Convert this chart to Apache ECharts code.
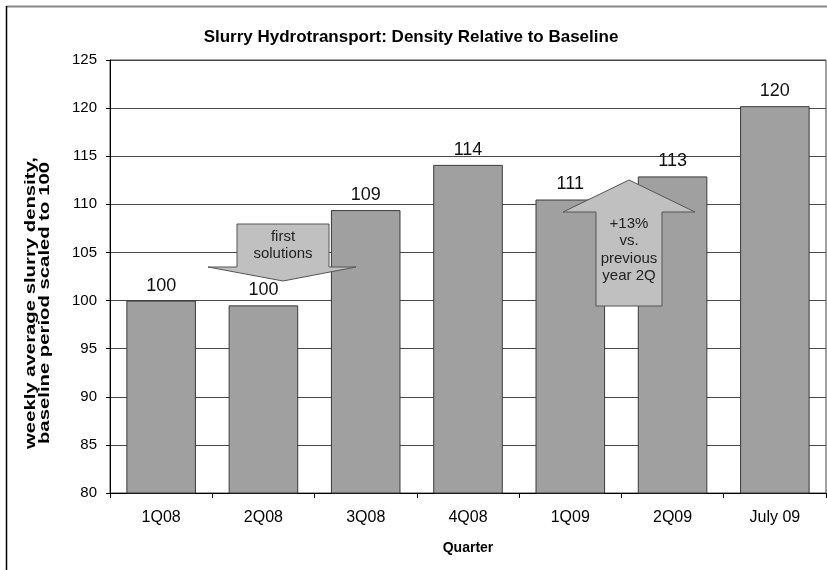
<!DOCTYPE html>
<html>
<head>
<meta charset="utf-8">
<script src="https://cdn.jsdelivr.net/npm/echarts@6/dist/echarts.min.js"></script>
<style>
  html, body { margin: 0; padding: 0; background: #fff; }
  #chart { width: 827px; height: 570px; }
</style>
</head>
<body>
<div id="chart"></div>
<script>
// Quarterly slurry density, baseline period scaled to 100
const quarters = ['1Q08', '2Q08', '3Q08', '4Q08', '1Q09', '2Q09', 'July 09'];
const density = [100, 99.5, 109.4, 114.1, 110.5, 112.9, 120.2];
const yTicks = { min: 80, max: 125, step: 5 };

const FONT = '"Liberation Sans", Arial, sans-serif';

const chart = echarts.init(document.getElementById('chart'), null, { renderer: 'canvas' });

chart.setOption({
  animation: false,
  backgroundColor: '#fff',
  textStyle: { fontFamily: FONT },
  grid: {
    left: 110, right: 1, top: 60, bottom: 77,
    show: true, borderColor: '#444', borderWidth: 1, backgroundColor: 'transparent'
  },
  xAxis: {
    type: 'category',
    data: quarters,
    name: 'Quarter',
    nameLocation: 'middle',
    nameGap: 48,
    nameTextStyle: { fontFamily: FONT, fontSize: 14, fontWeight: 'bold', color: '#000' },
    axisLine: { lineStyle: { color: '#000', width: 1 } },
    axisTick: { show: true, length: 5, lineStyle: { color: '#000' } },
    axisLabel: { fontFamily: FONT, fontSize: 16, color: '#000', margin: 17 }
  },
  yAxis: {
    type: 'value',
    min: yTicks.min, max: yTicks.max, interval: yTicks.step,
    axisLine: { show: true, lineStyle: { color: '#000', width: 1 } },
    axisTick: { show: true, length: 4, lineStyle: { color: '#000' } },
    axisLabel: { fontFamily: FONT, fontSize: 15, color: '#000', margin: 13 },
    splitLine: { show: true, lineStyle: { color: '#4a4a4a', width: 1 } }
  },
  series: [{
    type: 'bar',
    data: density,
    barCategoryGap: '32%',
    itemStyle: { color: '#a0a0a0', borderColor: '#3a3a3a', borderWidth: 1 },
    label: {
      show: true, position: 'top', distance: 6,
      fontFamily: FONT, fontSize: 18, color: '#111',
      formatter: p => String(Math.round(p.value))
    },
    z: 2
  }],
  graphic: [
    // outer frame lines
    { type: 'line', shape: { x1: 6.5, y1: 6.5, x2: 827, y2: 6.5 }, style: { stroke: '#888', lineWidth: 2 }, z: 100 },
    { type: 'line', shape: { x1: 6.5, y1: 6, x2: 6.5, y2: 570 }, style: { stroke: '#000', lineWidth: 1.5 }, z: 100 },
    // chart title
    {
      type: 'text', x: 411, y: 37, z: 100,
      style: {
        text: 'Slurry Hydrotransport: Density Relative to Baseline',
        fontFamily: FONT, fontSize: 17, fontWeight: 'bold', fill: '#000',
        align: 'center', verticalAlign: 'middle'
      }
    },
    // y-axis title, drawn rotated and spread along its length
    {
      type: 'text', x: 38, y: 303, rotation: Math.PI / 2, scaleX: 1.45, z: 100,
      style: {
        text: 'weekly average slurry density,\nbaseline period scaled to 100',
        fontFamily: FONT, fontSize: 14, fontWeight: 'bold', fill: '#000',
        align: 'center', verticalAlign: 'middle', lineHeight: 14
      }
    },
    // "first solutions" down arrow
    {
      type: 'polygon', z: 100,
      shape: { points: [[237, 224], [329, 224], [329, 267], [356, 267], [283, 281], [208, 267], [237, 267]] },
      style: { fill: '#c0c0c0', stroke: '#555', lineWidth: 1 }
    },
    {
      type: 'text', x: 283, y: 245, z: 101,
      style: {
        text: 'first\nsolutions', fontFamily: FONT, fontSize: 15, fill: '#222',
        align: 'center', verticalAlign: 'middle', lineHeight: 17
      }
    },
    // "+13%" up arrow
    {
      type: 'polygon', z: 100,
      shape: { points: [[629, 180], [695, 212], [662, 212], [662, 306], [596, 306], [596, 212], [563, 212]] },
      style: { fill: '#c0c0c0', stroke: '#555', lineWidth: 1 }
    },
    {
      type: 'text', x: 629, y: 250, z: 101,
      style: {
        text: '+13%\nvs.\nprevious\nyear 2Q', fontFamily: FONT, fontSize: 15, fill: '#222',
        align: 'center', verticalAlign: 'middle', lineHeight: 17.5
      }
    }
  ]
});
</script>
</body>
</html>
